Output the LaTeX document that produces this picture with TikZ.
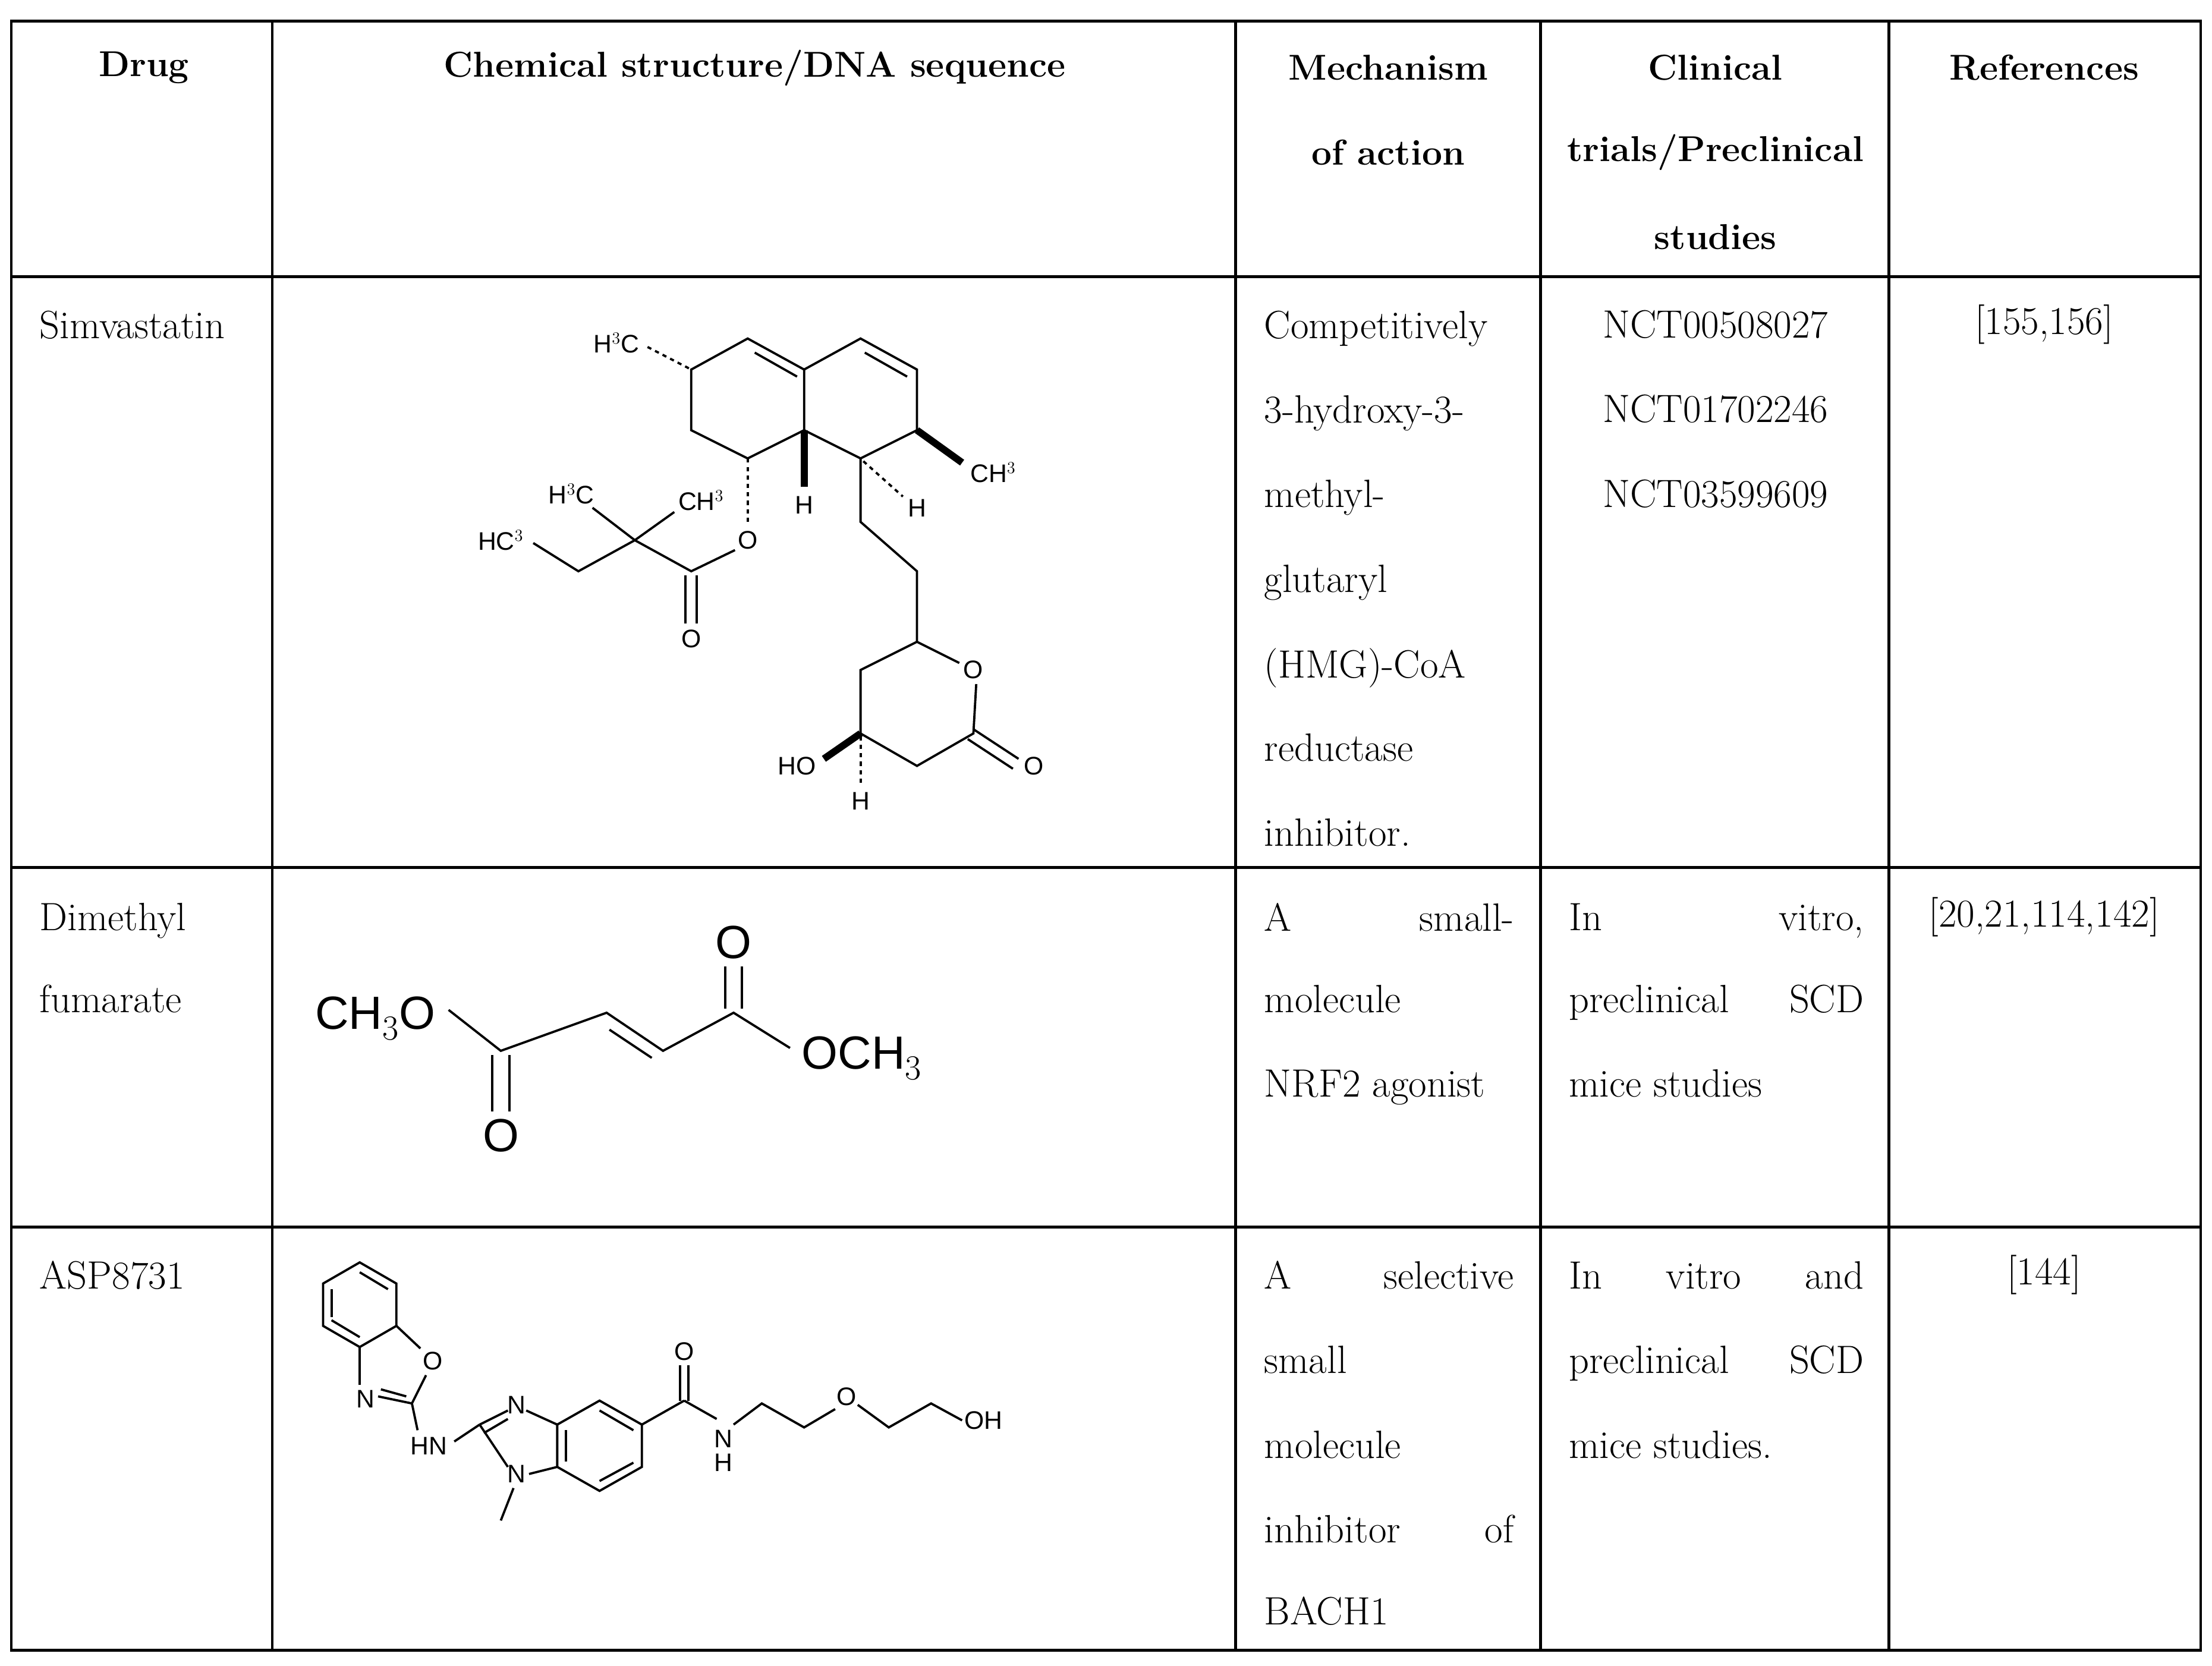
\documentclass[tikz,border=0pt]{standalone}
\usepackage{fontspec}
\newfontfamily\chemf{Liberation Sans}
\begin{document}
\begin{tikzpicture}[x=1pt,y=-1pt,
  grid/.style={line width=2pt},
  hd/.style={font=\fontsize{25.5}{30}\selectfont\bfseries},
  tx/.style={font=\fontsize{28}{30}\selectfont},
  jl/.style={tx,anchor=west,inner sep=0pt,text depth=0pt},
  bd/.style={line width=1.6pt},
  ch/.style={font=\chemf\fontsize{18}{20}\selectfont,inner sep=1pt},
  chb/.style={font=\chemf\fontsize{33}{36}\selectfont,inner sep=1pt},
  dsh/.style={line width=1.6pt,dash pattern=on 3pt off 3pt},
  wdg/.style={line width=5pt}]
\useasboundingbox (0,0) rectangle (1568,1181);
\fill[white] (0,0) rectangle (1568,1181);
% grid
\draw[grid] (8,15) rectangle (1560,1170);
\foreach \y in {196,615,870} \draw[grid] (8,\y) -- (1560,\y);
\foreach \x in {193,876,1092,1339} \draw[grid] (\x,15) -- (\x,1170);
% headers
\node[hd] (h1) at (102,48) {Drug};
\node[hd] (h2) at (535,48) {Chemical structure/DNA sequence};
\node[hd] (h3a) at (984,48) {Mechanism};
\node[hd] (h3b) at (984,108) {of action};
\node[hd] (h4a) at (1216,48) {Clinical};
\node[hd] (h4b) at (1216,108) {trials/Preclinical};
\node[hd] (h4c) at (1216,168) {studies};
\node[hd] (h5) at (1449,48) {References};
% row 1
\node[jl] (d1) at (28,230) {Simvastatin};
\node[jl] (m1a) at (896,230) {Competitively};
\node[jl] (m1b) at (896,290) {3-hydroxy-3-};
\node[jl] (m1c) at (896,350) {methyl-};
\node[jl] (m1d) at (896,410) {glutaryl};
\node[jl] (m1e) at (896,470) {(HMG)-CoA};
\node[jl] (m1f) at (896,530) {reductase};
\node[jl] (m1g) at (896,590) {inhibitor.};
\node[tx] (c1a) at (1216,230) {NCT00508027};
\node[tx] (c1b) at (1216,290) {NCT01702246};
\node[tx] (c1c) at (1216,350) {NCT03599609};
\node[tx] (r1) at (1449,230) {[155,156]};
% row 2
\node[jl] (d2a) at (28,650) {Dimethyl};
\node[jl] (d2b) at (28,708) {fumarate};
\node[jl,text width=177pt] (m2a) at (896,650) {A \hfill small-};
\node[jl] (m2b) at (896,708) {molecule};
\node[jl] (m2c) at (896,768) {NRF2 agonist};
\node[jl,text width=209pt] (c2a) at (1112,650) {In \hfill vitro,};
\node[jl,text width=209pt] (c2b) at (1112,708) {preclinical \hfill SCD};
\node[jl] (c2c) at (1112,768) {mice studies};
\node[tx] (r2) at (1449,650) {[20,21,114,142]};
% row 3
\node[jl] (d3) at (28,904) {ASP8731};
\node[jl,text width=177pt] (m3a) at (896,904) {A \hfill selective};
\node[jl] (m3b) at (896,964) {small};
\node[jl] (m3c) at (896,1024) {molecule};
\node[jl,text width=177pt] (m3d) at (896,1084) {inhibitor \hfill of};
\node[jl] (m3e) at (896,1142) {BACH1};
\node[jl,text width=209pt] (c3a) at (1112,904) {In \hfill vitro \hfill and};
\node[jl,text width=209pt] (c3b) at (1112,964) {preclinical \hfill SCD};
\node[jl] (c3c) at (1112,1024) {mice studies.};
\node[tx] (r3) at (1449,904) {[144]};
% ---------- Simvastatin ----------
\draw[bd] (490,262) -- (530,240) -- (570,262) -- (570,305) -- (530,325) -- (490,305) -- cycle;
\draw[bd] (535,250) -- (565,267);
\draw[bd] (570,262) -- (610,240) -- (650,262) -- (650,305) -- (610,325) -- (570,305);
\draw[bd] (613,250) -- (643,267);
\node[ch] (s1) at (437,243) {H$^3$C};
\draw[dsh] (459,246) -- (490,262);
\node[ch] (s2) at (704,335) {CH$^3$};
\draw[wdg] (650,305) -- (682,328);
\node[ch] (s3) at (570,358) {H};
\draw[wdg] (570,305) -- (570,345);
\node[ch] (s4) at (650,360) {H};
\draw[dsh] (612,327) -- (640,352);
\draw[bd] (610,325) -- (610,370) -- (650,405) -- (650,455);
\node[ch] (s5) at (530,383) {O};
\draw[dsh] (530,325) -- (530,372);
\draw[bd] (521,390) -- (490,405) -- (450,383);
\draw[bd] (486,408) -- (486,442); \draw[bd] (494,408) -- (494,442);
\node[ch] (s6) at (490,453) {O};
\node[ch] (s7) at (405,350) {H$^3$C};
\node[ch] (s8) at (497,355) {CH$^3$};
\draw[bd] (450,383) -- (420,360);
\draw[bd] (450,383) -- (478,363);
\draw[bd] (450,383) -- (410,405) -- (378,385);
\node[ch] (s9) at (355,383) {HC$^3$};
% lactone
\draw[bd] (650,455) -- (680,470);
\node[ch] (s10) at (690,475) {O};
\draw[bd] (692,485) -- (690,520) -- (650,543) -- (610,520) -- (610,475) -- (650,455);
\draw[bd] (690,517) -- (722,538); \draw[bd] (686,524) -- (718,545);
\node[ch] (s11) at (733,543) {O};
\node[ch] (s12) at (565,543) {HO};
\draw[wdg] (610,520) -- (584,538);
\node[ch] (s13) at (610,568) {H};
\draw[dsh] (610,522) -- (610,556);
% ---------- Dimethyl fumarate ----------
\node[chb] (f1) at (266,722) {CH$_3$O};
\node[chb] (f2) at (611,750) {OCH$_3$};
\node[chb] (f3) at (355,805) {O};
\node[chb] (f4) at (520,668) {O};
\draw[bd] (318,716) -- (355,745) -- (430,718) -- (470,745) -- (520,718) -- (560,743);
\draw[bd] (349,748) -- (349,788); \draw[bd] (361,748) -- (361,788);
\draw[bd] (432,730) -- (462,750);
\draw[bd] (514,715) -- (514,685); \draw[bd] (526,715) -- (526,685);
% ---------- ASP8731 ----------
\draw[bd] (255,895) -- (281,910) -- (281,940) -- (255,955) -- (229,940) -- (229,910) -- cycle;
\draw[bd] (255,902) -- (275,914); \draw[bd] (235,936) -- (255,948); \draw[bd] (235,914) -- (235,934);
\draw[bd] (281,940) -- (298,956);
\node[ch] (a1) at (307,965) {O};
\draw[bd] (302,975) -- (292,995) -- (268,990);
\draw[bd] (288,990) -- (270,985);
\node[ch] (a2) at (259,992) {N};
\draw[bd] (255,982) -- (255,955);
\node[ch] (a3) at (304,1025) {HN};
\draw[bd] (292,995) -- (296,1014);
\draw[bd] (322,1022) -- (340,1010);
\draw[bd] (340,1010) -- (360,1000); \draw[bd] (343,1016) -- (360,1006);
\node[ch] (a4) at (366,996) {N};
\draw[bd] (340,1010) -- (360,1040);
\node[ch] (a5) at (366,1045) {N};
\draw[bd] (364,1055) -- (355,1078);
\draw[bd] (373,1000) -- (395,1010) -- (395,1040) -- (375,1045);
\draw[bd] (395,1010) -- (425,993) -- (455,1010) -- (455,1040) -- (425,1057) -- (395,1040);
\draw[bd] (425,1000) -- (449,1014); \draw[bd] (449,1037) -- (425,1050); \draw[bd] (401,1014) -- (401,1036);
\draw[bd] (455,1010) -- (485,993);
\draw[bd] (482,993) -- (482,968); \draw[bd] (488,993) -- (488,968);
\node[ch] (a6) at (485,958) {O};
\draw[bd] (485,993) -- (508,1006);
\node[ch] (a7) at (513,1020) {N};
\node[ch] (a8) at (513,1037) {H};
\draw[bd] (520,1010) -- (540,995) -- (570,1012) -- (592,999);
\node[ch] (a9) at (600,990) {O};
\draw[bd] (608,996) -- (630,1012) -- (660,995) -- (682,1007);
\node[ch] (a10) at (697,1007) {OH};
\end{tikzpicture}
\end{document}
